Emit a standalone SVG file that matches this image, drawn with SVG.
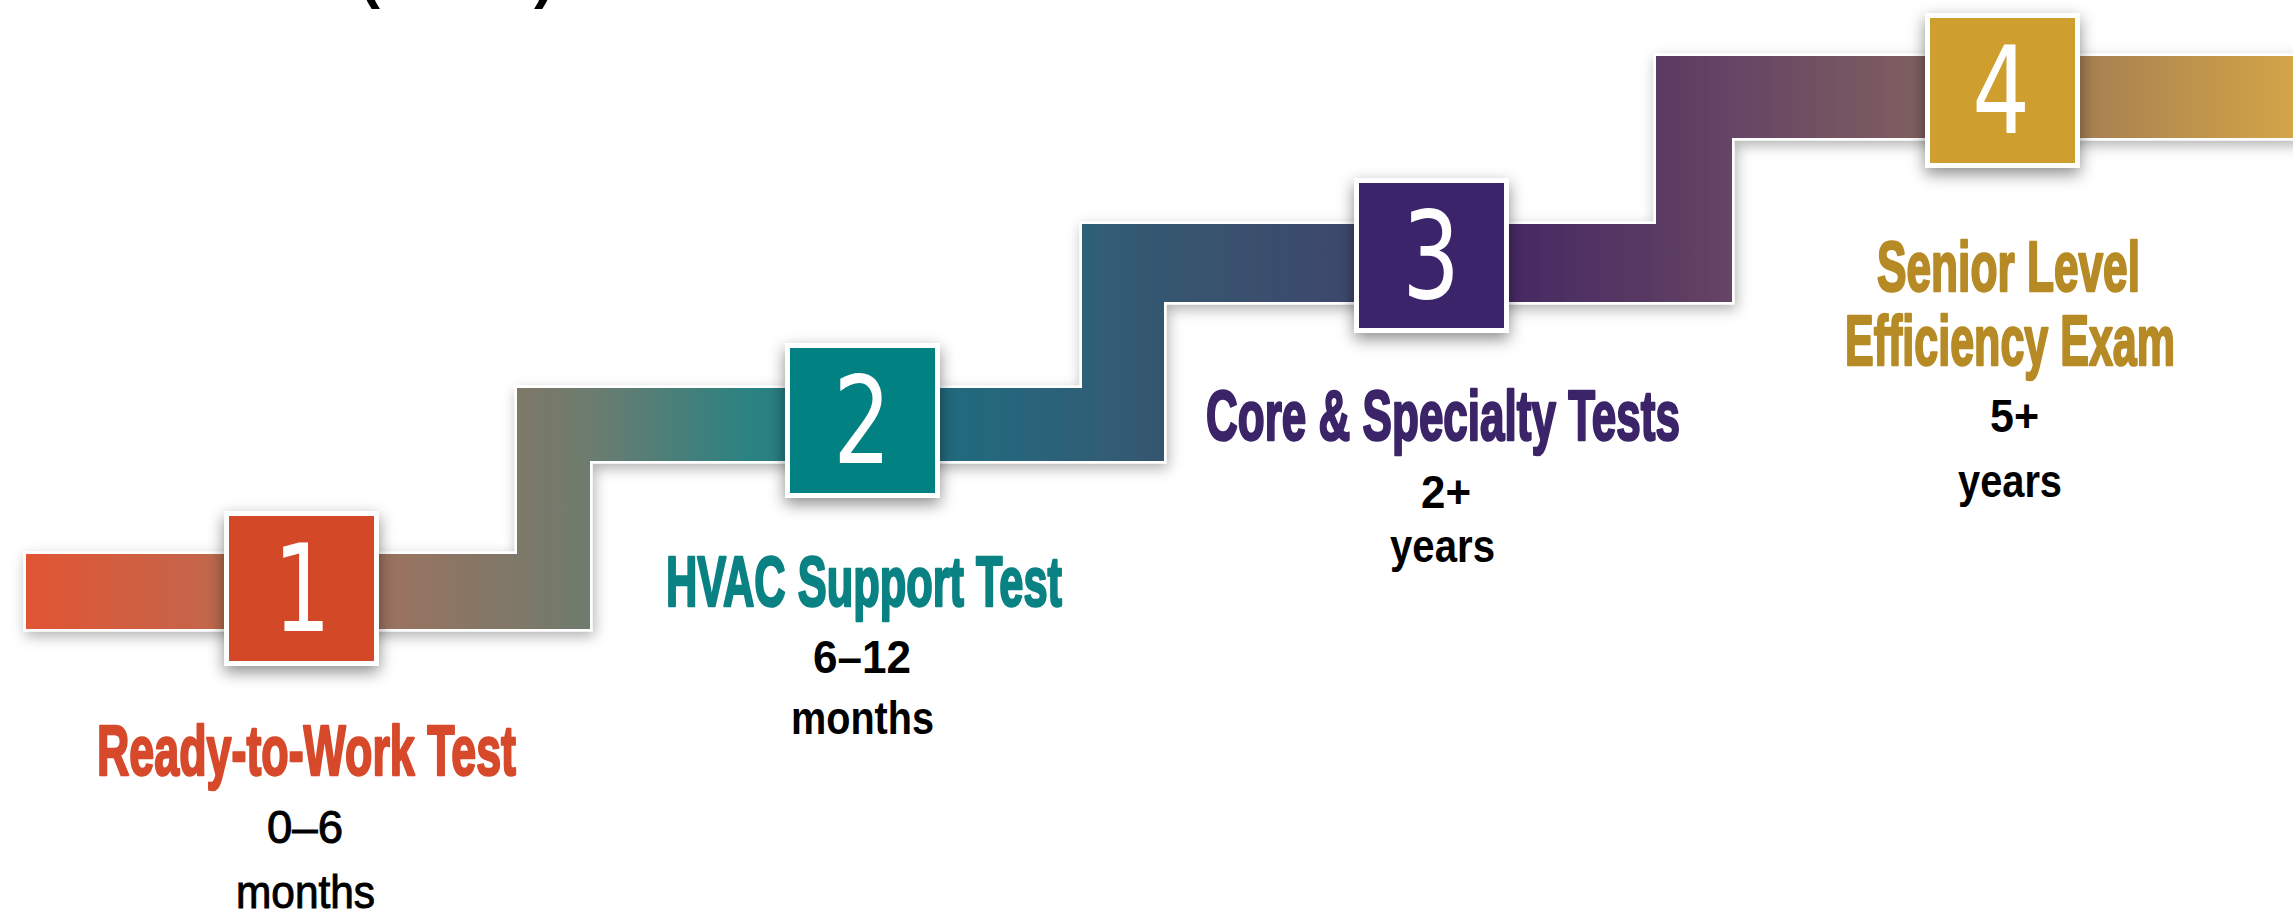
<svg xmlns="http://www.w3.org/2000/svg" width="2293" height="915" viewBox="0 0 2293 915">
  <style>
    .title { font-family: "Liberation Sans", Arial, sans-serif; font-weight: 700; font-size: 70px; stroke-width: 2.5px; stroke-linejoin: round; }
    .sub { font-family: "Liberation Sans", Arial, sans-serif; font-weight: 700; font-size: 47px; fill: #000; }
    .sub1 { font-family: "Liberation Sans", Arial, sans-serif; font-weight: 400; font-size: 46px; fill: #000; stroke: #000; stroke-width: 1px; }
    .num { font-family: "DejaVu Sans", "Liberation Sans", sans-serif; font-size: 121px; fill: #fff; }
    .frame { fill: #fff; filter: url(#boxShadow); }
    .paren { font-family: "Liberation Sans", Arial, sans-serif; font-weight: 700; font-size: 60px; fill: #000; }
  </style>
  <defs>
    <linearGradient id="stairGrad" gradientUnits="userSpaceOnUse" x1="25" y1="0" x2="2293" y2="0">
      <stop offset="0" stop-color="#E15533"/>
      <stop offset="0.077" stop-color="#C5654A"/>
      <stop offset="0.088" stop-color="#B86A4E"/>
      <stop offset="0.157" stop-color="#9C7260"/>
      <stop offset="0.217" stop-color="#7E7868"/>
      <stop offset="0.249" stop-color="#6D7C6F"/>
      <stop offset="0.320" stop-color="#2A8282"/>
      <stop offset="0.403" stop-color="#206B7E"/>
      <stop offset="0.466" stop-color="#2E6078"/>
      <stop offset="0.502" stop-color="#36566F"/>
      <stop offset="0.586" stop-color="#3E486C"/>
      <stop offset="0.654" stop-color="#462964"/>
      <stop offset="0.719" stop-color="#5A3A62"/>
      <stop offset="0.753" stop-color="#664566"/>
      <stop offset="0.838" stop-color="#80605F"/>
      <stop offset="0.906" stop-color="#A57F52"/>
      <stop offset="1" stop-color="#D3A547"/>
    </linearGradient>
    <filter id="stairShadow" x="-5%" y="-20%" width="110%" height="140%">
      <feDropShadow dx="2" dy="5" stdDeviation="7" flood-color="#000" flood-opacity="0.3"/>
    </filter>
    <filter id="boxShadow" x="-30%" y="-30%" width="160%" height="160%">
      <feDropShadow dx="0" dy="6" stdDeviation="8" flood-color="#000" flood-opacity="0.45"/>
    </filter>
  </defs>

  <rect x="0" y="0" width="2293" height="915" fill="#fff"/>

  <g id="top-text">
    <text class="paren" x="360" y="-3">(</text>
    <text class="paren" x="534" y="-3">)</text>
  </g>

  <g id="connectors">
    <path d="M26,554 H517 V388 H1082 V224 H1656 V56 H2300 V138 H1732 V302 H1164 V461 H590 V629 H26 Z"
          fill="url(#stairGrad)" stroke="#fff" stroke-width="5" paint-order="stroke" filter="url(#stairShadow)"/>
  </g>

  <g id="step1">
    <rect class="frame" x="224" y="511" width="155" height="155"/>
    <rect x="229" y="516" width="145" height="145" fill="#D34826"/>
    <text class="num" text-anchor="middle" transform="translate(302,631) scale(0.75,1)">1</text>
    <text class="title" x="97" y="775" textLength="419" lengthAdjust="spacingAndGlyphs" fill="#D6492A" stroke="#D6492A">Ready-to-Work Test</text>
    <text class="sub1" x="267" y="843" textLength="76" lengthAdjust="spacingAndGlyphs">0–6</text>
    <text class="sub1" x="236" y="908" textLength="139" lengthAdjust="spacingAndGlyphs">months</text>
  </g>

  <g id="step2">
    <rect class="frame" x="785" y="343" width="155" height="155"/>
    <rect x="790" y="348" width="145" height="145" fill="#028183"/>
    <text class="num" text-anchor="middle" transform="translate(862,463) scale(0.75,1)">2</text>
    <text class="title" x="666" y="606" textLength="396" lengthAdjust="spacingAndGlyphs" fill="#0A8284" stroke="#0A8284">HVAC Support Test</text>
    <text class="sub" x="813" y="673" textLength="98" lengthAdjust="spacingAndGlyphs">6–12</text>
    <text class="sub" x="791" y="734" textLength="143" lengthAdjust="spacingAndGlyphs">months</text>
  </g>

  <g id="step3">
    <rect class="frame" x="1354" y="178" width="155" height="155"/>
    <rect x="1359" y="183" width="145" height="145" fill="#3B246A"/>
    <text class="num" text-anchor="middle" transform="translate(1431,298) scale(0.75,1)">3</text>
    <text class="title" x="1206" y="440" textLength="474" lengthAdjust="spacingAndGlyphs" fill="#3B2468" stroke="#3B2468">Core &amp; Specialty Tests</text>
    <text class="sub" x="1421" y="508" textLength="50" lengthAdjust="spacingAndGlyphs">2+</text>
    <text class="sub" x="1390" y="562" textLength="105" lengthAdjust="spacingAndGlyphs">years</text>
  </g>

  <g id="step4">
    <rect class="frame" x="1925" y="13" width="155" height="155"/>
    <rect x="1930" y="18" width="145" height="145" fill="#CE9F2E"/>
    <text class="num" text-anchor="middle" transform="translate(2001,133) scale(0.75,1)">4</text>
    <text class="title" x="1877" y="291" textLength="263" lengthAdjust="spacingAndGlyphs" fill="#B68A25" stroke="#B68A25">Senior Level</text>
    <text class="title" x="1845" y="365" textLength="330" lengthAdjust="spacingAndGlyphs" fill="#B68A25" stroke="#B68A25">Efficiency Exam</text>
    <text class="sub" x="1990" y="432" textLength="49" lengthAdjust="spacingAndGlyphs">5+</text>
    <text class="sub" x="1958" y="497" textLength="104" lengthAdjust="spacingAndGlyphs">years</text>
  </g>
</svg>
